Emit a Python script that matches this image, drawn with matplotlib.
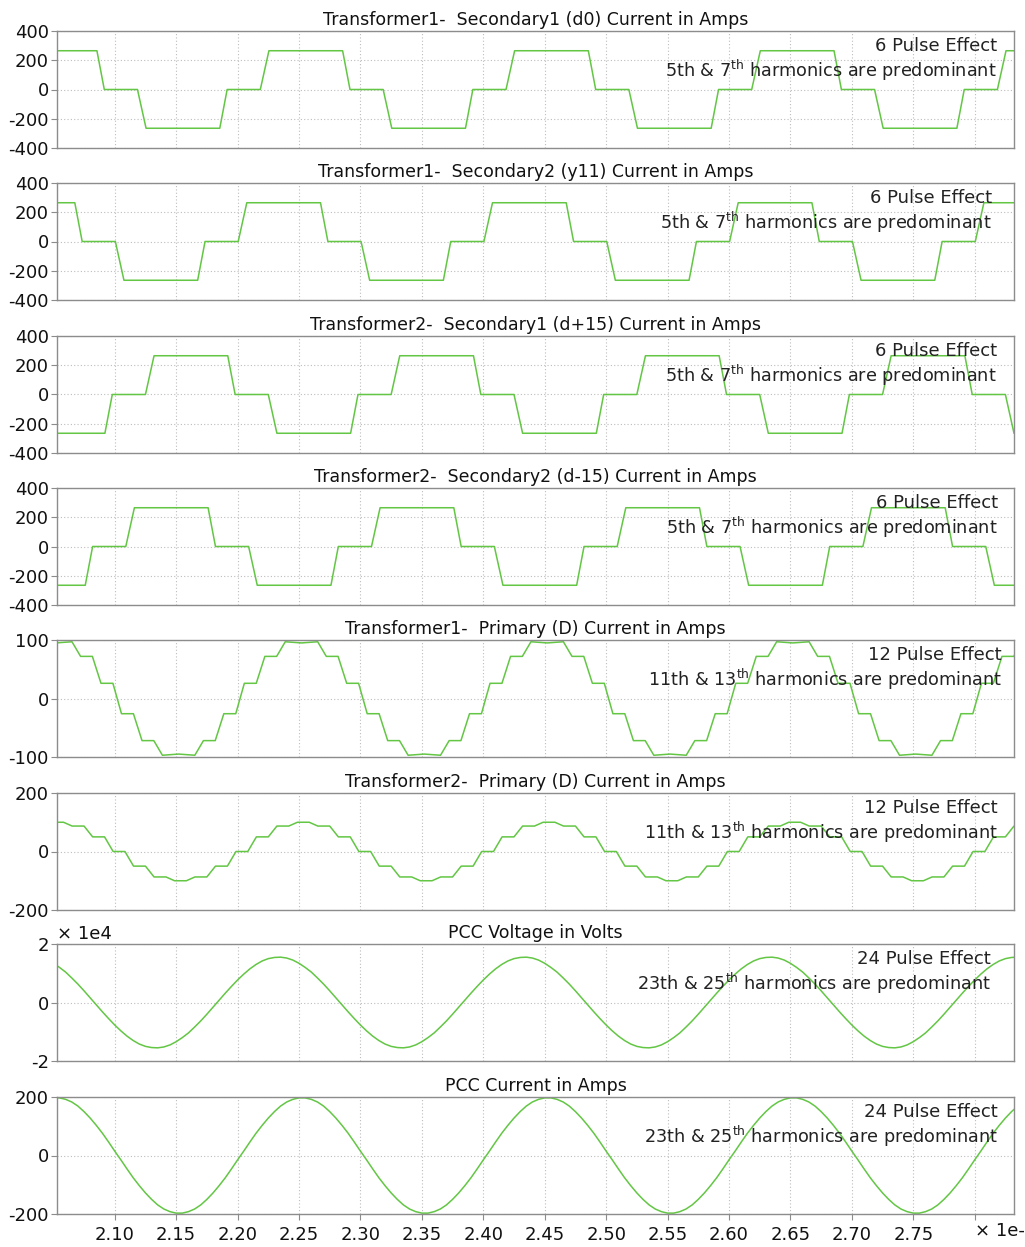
import numpy as np
import matplotlib.pyplot as plt
from matplotlib.transforms import blended_transform_factory

plt.rcParams['font.family'] = ['DejaVu Sans']
plt.rcParams['mathtext.default'] = 'regular'
plt.rcParams['axes.unicode_minus'] = False

# time axis is in units of 1e-1 s

# Transformer1 secondary1 (d0) - corner points of the 6 pulse wave
t_t1s1 = [2.045, 2.0855, 2.0915, 2.1185, 2.1255, 2.1855, 2.1915, 2.2185, 2.2255, 2.2855,
          2.2915, 2.3185, 2.3255, 2.3855, 2.3915, 2.4185, 2.4255, 2.4855, 2.4915, 2.5185,
          2.5255, 2.5855, 2.5915, 2.6185, 2.6255, 2.6855, 2.6915, 2.7185, 2.7255, 2.7855,
          2.7915, 2.8185, 2.8255, 2.84]
i_t1s1 = [265, 265, 0, 0, -265, -265, 0, 0, 265, 265,
          0, 0, -265, -265, 0, 0, 265, 265, 0, 0,
          -265, -265, 0, 0, 265, 265, 0, 0, -265, -265,
          0, 0, 265, 265]

# Transformer1 secondary2 (y11)
t_t1s2 = [2.045, 2.0675, 2.0735, 2.1005, 2.1075, 2.1675, 2.1735, 2.2005, 2.2075, 2.2675,
          2.2735, 2.3005, 2.3075, 2.3675, 2.3735, 2.4005, 2.4075, 2.4675, 2.4735, 2.5005,
          2.5075, 2.5675, 2.5735, 2.6005, 2.6075, 2.6675, 2.6735, 2.7005, 2.7075, 2.7675,
          2.7735, 2.8005, 2.8075, 2.84]
i_t1s2 = [265, 265, 0, 0, -265, -265, 0, 0, 265, 265,
          0, 0, -265, -265, 0, 0, 265, 265, 0, 0,
          -265, -265, 0, 0, 265, 265, 0, 0, -265, -265,
          0, 0, 265, 265]

# Transformer2 secondary1 (d+15)
t_t2s1 = [2.045, 2.092, 2.098, 2.125, 2.132, 2.192, 2.198, 2.225, 2.232, 2.292,
          2.298, 2.325, 2.332, 2.392, 2.398, 2.425, 2.432, 2.492, 2.498, 2.525,
          2.532, 2.592, 2.598, 2.625, 2.632, 2.692, 2.698, 2.725, 2.732, 2.792,
          2.798, 2.825, 2.832, 2.84]
i_t2s1 = [-265, -265, 0, 0, 265, 265, 0, 0, -265, -265,
          0, 0, 265, 265, 0, 0, -265, -265, 0, 0,
          265, 265, 0, 0, -265, -265, 0, 0, 265, 265,
          0, 0, -265, -265]

# Transformer2 secondary2 (d-15)
t_t2s2 = [2.045, 2.076, 2.082, 2.109, 2.116, 2.176, 2.182, 2.209, 2.216, 2.276,
          2.282, 2.309, 2.316, 2.376, 2.382, 2.409, 2.416, 2.476, 2.482, 2.509,
          2.516, 2.576, 2.582, 2.609, 2.616, 2.676, 2.682, 2.709, 2.716, 2.776,
          2.782, 2.809, 2.816, 2.84]
i_t2s2 = [-265, -265, 0, 0, 265, 265, 0, 0, -265, -265,
          0, 0, 265, 265, 0, 0, -265, -265, 0, 0,
          265, 265, 0, 0, -265, -265, 0, 0, 265, 265,
          0, 0, -265, -265]

# Transformer1 primary (D) - 12 pulse staircase
t_t1p = [2.045, 2.052, 2.0652, 2.0722, 2.0818, 2.0888, 2.0985, 2.1055, 2.1152, 2.1222,
         2.1318, 2.1388, 2.152, 2.1652, 2.1722, 2.1818, 2.1888, 2.1985, 2.2055, 2.2152,
         2.2222, 2.2318, 2.2388, 2.252, 2.2652, 2.2722, 2.2818, 2.2888, 2.2985, 2.3055,
         2.3152, 2.3222, 2.3318, 2.3388, 2.352, 2.3652, 2.3722, 2.3818, 2.3888, 2.3985,
         2.4055, 2.4152, 2.4222, 2.4318, 2.4388, 2.452, 2.4652, 2.4722, 2.4818, 2.4888,
         2.4985, 2.5055, 2.5152, 2.5222, 2.5318, 2.5388, 2.552, 2.5652, 2.5722, 2.5818,
         2.5888, 2.5985, 2.6055, 2.6152, 2.6222, 2.6318, 2.6388, 2.652, 2.6652, 2.6722,
         2.6818, 2.6888, 2.6985, 2.7055, 2.7152, 2.7222, 2.7318, 2.7388, 2.752, 2.7652,
         2.7722, 2.7818, 2.7888, 2.7985, 2.8055, 2.8152, 2.8222, 2.8318, 2.8388, 2.845]
i_t1p = [97, 95, 97, 72, 72, 26, 26, -26, -26, -72,
         -72, -97, -95, -97, -72, -72, -26, -26, 26, 26,
         72, 72, 97, 95, 97, 72, 72, 26, 26, -26,
         -26, -72, -72, -97, -95, -97, -72, -72, -26, -26,
         26, 26, 72, 72, 97, 95, 97, 72, 72, 26,
         26, -26, -26, -72, -72, -97, -95, -97, -72, -72,
         -26, -26, 26, 26, 72, 72, 97, 95, 97, 72,
         72, 26, 26, -26, -26, -72, -72, -97, -95, -97,
         -72, -72, -26, -26, 26, 26, 72, 72, 97, 97]

# Transformer2 primary (D) - 12 pulse staircase, 15 deg shifted
t_t2p = [2.045, 2.0583, 2.0653, 2.075, 2.082, 2.0917, 2.0987, 2.1083, 2.1153, 2.125,
         2.132, 2.1417, 2.1487, 2.1583, 2.1653, 2.175, 2.182, 2.1917, 2.1987, 2.2083,
         2.2153, 2.225, 2.232, 2.2417, 2.2487, 2.2583, 2.2653, 2.275, 2.282, 2.2917,
         2.2987, 2.3083, 2.3153, 2.325, 2.332, 2.3417, 2.3487, 2.3583, 2.3653, 2.375,
         2.382, 2.3917, 2.3987, 2.4083, 2.4153, 2.425, 2.432, 2.4417, 2.4487, 2.4583,
         2.4653, 2.475, 2.482, 2.4917, 2.4987, 2.5083, 2.5153, 2.525, 2.532, 2.5417,
         2.5487, 2.5583, 2.5653, 2.575, 2.582, 2.5917, 2.5987, 2.6083, 2.6153, 2.625,
         2.632, 2.6417, 2.6487, 2.6583, 2.6653, 2.675, 2.682, 2.6917, 2.6987, 2.7083,
         2.7153, 2.725, 2.732, 2.7417, 2.7487, 2.7583, 2.7653, 2.775, 2.782, 2.7917,
         2.7987, 2.8083, 2.8153, 2.825, 2.832, 2.845]
i_t2p = [100, 100, 87, 87, 50, 50, 0, 0, -50, -50,
         -87, -87, -100, -100, -87, -87, -50, -50, 0, 0,
         50, 50, 87, 87, 100, 100, 87, 87, 50, 50,
         0, 0, -50, -50, -87, -87, -100, -100, -87, -87,
         -50, -50, 0, 0, 50, 50, 87, 87, 100, 100,
         87, 87, 50, 50, 0, 0, -50, -50, -87, -87,
         -100, -100, -87, -87, -50, -50, 0, 0, 50, 50,
         87, 87, 100, 100, 87, 87, 50, 50, 0, 0,
         -50, -50, -87, -87, -100, -100, -87, -87, -50, -50,
         0, 0, 50, 50, 87, 87]

# PCC quantities sampled every 0.005 (x 1e-1 s) from 2.05 to 2.845
t_pcc = np.round(2.05 + 0.005 * np.arange(160), 3)
v_pcc = [13400, 12000, 10400, 8400, 6300, 4000, 1600, -800, -3200, -5500,
         -7700, -9700, -11500, -13000, -14200, -15000, -15400, -15500, -15200, -14500,
         -13400, -12000, -10400, -8400, -6300, -4000, -1600, 800, 3200, 5500,
         7700, 9700, 11500, 13000, 14200, 15000, 15400, 15500, 15200, 14500,
         13400, 12000, 10400, 8400, 6300, 4000, 1600, -800, -3200, -5500,
         -7700, -9700, -11500, -13000, -14200, -15000, -15400, -15500, -15200, -14500,
         -13400, -12000, -10400, -8400, -6300, -4000, -1600, 800, 3200, 5500,
         7700, 9700, 11500, 13000, 14200, 15000, 15400, 15500, 15200, 14500,
         13400, 12000, 10400, 8400, 6300, 4000, 1600, -800, -3200, -5500,
         -7700, -9700, -11500, -13000, -14200, -15000, -15400, -15500, -15200, -14500,
         -13400, -12000, -10400, -8400, -6300, -4000, -1600, 800, 3200, 5500,
         7700, 9700, 11500, 13000, 14200, 15000, 15400, 15500, 15200, 14500,
         13400, 12000, 10400, 8400, 6300, 4000, 1600, -800, -3200, -5500,
         -7700, -9700, -11500, -13000, -14200, -15000, -15400, -15500, -15200, -14500,
         -13400, -12000, -10400, -8400, -6300, -4000, -1600, 800, 3200, 5500,
         7700, 9700, 11500, 13000, 14200, 15000, 15400, 15500, 15200, 14500]
i_pcc = [197, 197, 192, 183, 169, 150, 128, 103, 76, 46,
         15, -15, -46, -76, -103, -128, -150, -169, -183, -192,
         -197, -197, -192, -183, -169, -150, -128, -103, -76, -46,
         -15, 15, 46, 76, 103, 128, 150, 169, 183, 192,
         197, 197, 192, 183, 169, 150, 128, 103, 76, 46,
         15, -15, -46, -76, -103, -128, -150, -169, -183, -192,
         -197, -197, -192, -183, -169, -150, -128, -103, -76, -46,
         -15, 15, 46, 76, 103, 128, 150, 169, 183, 192,
         197, 197, 192, 183, 169, 150, 128, 103, 76, 46,
         15, -15, -46, -76, -103, -128, -150, -169, -183, -192,
         -197, -197, -192, -183, -169, -150, -128, -103, -76, -46,
         -15, 15, 46, 76, 103, 128, 150, 169, 183, 192,
         197, 197, 192, 183, 169, 150, 128, 103, 76, 46,
         15, -15, -46, -76, -103, -128, -150, -169, -183, -192,
         -197, -197, -192, -183, -169, -150, -128, -103, -76, -46,
         -15, 15, 46, 76, 103, 128, 150, 169, 183, 192]

titles = ["Transformer1-  Secondary1 (d0) Current in Amps",
          "Transformer1-  Secondary2 (y11) Current in Amps",
          "Transformer2-  Secondary1 (d+15) Current in Amps",
          "Transformer2-  Secondary2 (d-15) Current in Amps",
          "Transformer1-  Primary (D) Current in Amps",
          "Transformer2-  Primary (D) Current in Amps",
          "PCC Voltage in Volts",
          "PCC Current in Amps"]
pulse_notes = ["6 Pulse Effect"] * 4 + ["12 Pulse Effect"] * 2 + ["24 Pulse Effect"] * 2
harm_notes = [r"5th & 7$^{th}$ harmonics are predominant"] * 4 + \
             [r"11th & 13$^{th}$ harmonics are predominant"] * 2 + \
             [r"23th & 25$^{th}$ harmonics are predominant"] * 2
yticks = [[-400, -200, 0, 200, 400]] * 4 + [[-100, 0, 100], [-200, 0, 200], [-2, 0, 2], [-200, 0, 200]]
xticks = [2.10, 2.15, 2.20, 2.25, 2.30, 2.35, 2.40, 2.45, 2.50, 2.55, 2.60, 2.65, 2.70, 2.75, 2.80]
xlabels = ["%.2f" % x for x in xticks[:-1]] + [""]

series = [(t_t1s1, i_t1s1), (t_t1s2, i_t1s2), (t_t2s1, i_t2s1), (t_t2s2, i_t2s2),
          (t_t1p, i_t1p), (t_t2p, i_t2p),
          (t_pcc, np.array(v_pcc) / 1e4), (t_pcc, i_pcc)]

W, H = 1025, 1247
tops = [31, 183, 336, 488, 640, 793, 944, 1097]
note_right = [997, 992, 997, 998, 1002, 998, 991, 998]
left_px, right_px, h_px = 57, 1014, 117
green = '#63c644'
spine_col = '#8c8c8c'

fig = plt.figure(figsize=(W / 100, H / 100), dpi=100)
fig.patch.set_facecolor('white')

for k in range(8):
    ax = fig.add_axes([left_px / W, 1 - (tops[k] + h_px) / H,
                       (right_px - left_px) / W, h_px / H])
    t, y = series[k]
    ax.plot(t, y, color=green, lw=1.1)
    ax.set_xlim(2.053, 2.832)
    ax.set_ylim(yticks[k][0], yticks[k][-1])
    ax.set_yticks(yticks[k])
    ax.set_xticks(xticks)
    if k == 7:
        ax.set_xticklabels(xlabels)
    else:
        ax.set_xticklabels([])
    ax.grid(True, color='#bdbdbd', linestyle=(0, (1, 2)), linewidth=0.8)
    for s in ax.spines.values():
        s.set_color(spine_col)
        s.set_linewidth(1.0)
    ax.tick_params(axis='both', colors=spine_col, labelcolor='#111111',
                   labelsize=13, length=4, width=0.8, pad=2)
    ax.tick_params(axis='x', length=4 if k == 7 else 0, pad=5)
    ax.set_title(titles[k], fontsize=12.5, pad=4, color='#111111')
    xr = (note_right[k] - left_px) / (right_px - left_px)
    ax.text(xr, 1 - 15 / h_px, pulse_notes[k], transform=ax.transAxes,
            ha='right', va='center', fontsize=13, color='#222222')
    ax.text(xr, 1 - 39 / h_px, harm_notes[k], transform=ax.transAxes,
            ha='right', va='center', fontsize=12.7, color='#222222')
    if k == 6:
        ax.text(0.0, 1.01, u"\u00d7 1e4", transform=ax.transAxes,
                ha='left', va='bottom', fontsize=13, color='#111111')
    if k == 7:
        trans = blended_transform_factory(ax.transData, ax.transAxes)
        ax.text(2.80, -0.065, u"\u00d7 1e-1", transform=trans,
                ha='left', va='top', fontsize=13, color='#111111')

fig.savefig('out.png', dpi=100)
